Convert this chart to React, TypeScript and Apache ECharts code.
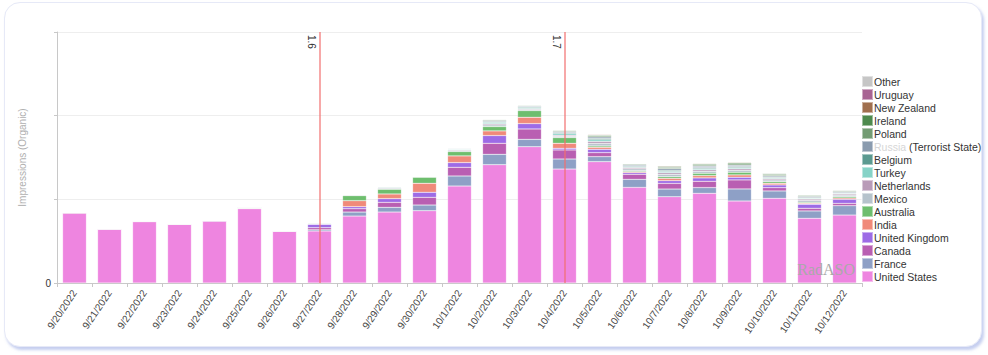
import React, { useEffect, useRef } from "react";
import * as echarts from "echarts";

const categories = [
  "9/20/2022", "9/21/2022", "9/22/2022", "9/23/2022", "9/24/2022", "9/25/2022",
  "9/26/2022", "9/27/2022", "9/28/2022", "9/29/2022", "9/30/2022", "10/1/2022",
  "10/2/2022", "10/3/2022", "10/4/2022", "10/5/2022", "10/6/2022", "10/7/2022",
  "10/8/2022", "10/9/2022", "10/10/2022", "10/11/2022", "10/12/2022",
];

// Stack order: bottom (United States) to top (Other)
const unitedStates = [836, 645, 734, 703, 743, 888, 620, 621, 800, 848, 864, 1159, 1414, 1629, 1362, 1450, 1143, 1031, 1072, 980, 1012, 773, 812];
const france = [4, 0, 0, 0, 0, 8, 0, 15, 48, 56, 68, 120, 124, 88, 120, 60, 96, 92, 68, 144, 88, 88, 112];
const canada = [0, 0, 0, 0, 0, 0, 0, 25, 40, 60, 92, 104, 132, 124, 108, 48, 60, 68, 76, 108, 40, 32, 28];
const unitedKingdom = [0, 0, 0, 0, 0, 0, 0, 40, 24, 44, 60, 56, 92, 64, 20, 40, 20, 32, 40, 32, 32, 48, 48];
const india = [0, 0, 0, 0, 0, 0, 0, 4, 72, 56, 108, 80, 56, 76, 60, 24, 12, 28, 28, 28, 20, 12, 16];
const australia = [0, 0, 4, 0, 0, 0, 0, 8, 60, 56, 72, 52, 52, 80, 68, 16, 12, 20, 28, 32, 20, 12, 16];
const mexico = [0, 0, 0, 1, 0, 0, 0, 3, 8, 12, 6, 14, 20, 14, 16, 30, 22, 28, 24, 24, 20, 22, 18];
const netherlands = [0, 0, 0, 0, 0, 0, 0, 2, 5, 8, 4, 8, 14, 10, 12, 24, 16, 20, 18, 18, 16, 16, 14];
const turkey = [4, 4, 3, 1, 5, 0, 5, 3, 5, 8, 3, 8, 16, 12, 20, 20, 10, 14, 12, 12, 10, 10, 8];
const belgium = [4, 4, 3, 0, 5, 8, 0, 2, 3, 6, 3, 6, 10, 10, 12, 16, 10, 14, 12, 12, 10, 8, 8];
const russia = [0, 0, 0, 0, 0, 0, 0, 1, 3, 6, 3, 7, 12, 10, 12, 18, 14, 20, 18, 18, 14, 14, 12];
const poland = [0, 0, 0, 0, 0, 0, 0, 1, 3, 6, 3, 6, 10, 8, 10, 14, 10, 14, 14, 16, 14, 10, 10];
const ireland = [0, 0, 0, 0, 0, 0, 0, 0, 2, 6, 2, 4, 6, 6, 8, 10, 6, 12, 12, 14, 12, 8, 8];
const newZealand = [0, 0, 0, 0, 0, 0, 0, 0, 1, 3, 1, 2, 4, 4, 4, 8, 4, 8, 8, 8, 6, 4, 2];
const uruguay = [0, 0, 0, 0, 0, 0, 0, 0, 2, 4, 1, 3, 4, 3, 3, 6, 2, 4, 4, 4, 4, 2, 2];
const other = [0, 0, 0, 0, 0, 0, 0, 0, 3, 5, 2, 2, 4, 3, 3, 4, 2, 2, 2, 2, 2, 2, 2];

const seriesNames = [
  "United States", "France", "Canada", "United Kingdom", "India", "Australia",
  "Mexico", "Netherlands", "Turkey", "Belgium", "Russia (Terrorist State)",
  "Poland", "Ireland", "New Zealand", "Uruguay", "Other",
];
const seriesValues = [
  unitedStates, france, canada, unitedKingdom, india, australia, mexico,
  netherlands, turkey, belgium, russia, poland, ireland, newZealand, uruguay, other,
];
const seriesColors = [
  "#ee85e0", "#8ea0c6", "#b95fb2", "#9d6be6", "#f08a7a", "#6ebe6e",
  "#b6c3cc", "#b99bb8", "#86d3c7", "#5b9a90", "#8a9bae", "#739c73",
  "#4e8a4e", "#a06f4e", "#a86493", "#c6c6c6",
];

const releaseDates = ["9/27/2022", "10/4/2022"];
const releaseLabels = ["1.6", "1.7"];

const yTicks = [0, 1000, 2000, 3000];

const FONT = "'Liberation Sans', Arial, sans-serif";

export default function App() {
  const ref = useRef<HTMLDivElement>(null);

  useEffect(() => {
    document.body.style.margin = "0";
    if (!ref.current) return;
    const chart = echarts.init(ref.current, undefined, { renderer: "svg" });

    const series: any[] = seriesNames.map((name, i) => {
      const s: any = {
        name,
        type: "bar",
        stack: "total",
        data: seriesValues[i],
        barCategoryGap: "32%",
        itemStyle: {
          color: seriesColors[i],
          borderColor: "rgba(255,255,255,0.45)",
          borderWidth: 0.5,
        },
      };
      if (i === 0) {
        s.markLine = {
          silent: true,
          symbol: "none",
          animation: false,
          lineStyle: { color: "rgba(242,110,110,0.6)", width: 2, type: "solid" },
          label: {
            show: true,
            position: "insideStartBottom",
            color: "#333",
            fontSize: 10,
            fontFamily: FONT,
            distance: 3,
          },
          data: releaseDates.map((d, k) => [
            { coord: [d, yTicks[yTicks.length - 1]], label: { formatter: releaseLabels[k] } },
            { coord: [d, 0] },
          ]),
        };
      }
      return s;
    });

    const legendData = seriesNames.slice().reverse();

    chart.setOption({
      animation: false,
      textStyle: { fontFamily: FONT },
      grid: { left: 57, right: 126, top: 32, bottom: 72, containLabel: false },
      legend: {
        orient: "vertical",
        left: 861,
        top: 75,
        padding: 0,
        itemWidth: 11,
        itemHeight: 11,
        itemGap: 0,
        icon: "rect",
        data: legendData,
        textStyle: {
          fontSize: 10.5,
          lineHeight: 11,
          color: "#333",
          fontFamily: FONT,
          padding: [0, 0, 0, -4],
          rich: {
            blur: { color: "#d6d6d6", fontSize: 10.5, lineHeight: 11, fontFamily: FONT },
            n: { color: "#333", fontSize: 10.5, lineHeight: 11, fontFamily: FONT },
          },
        },
        formatter: (name: string) =>
          name.startsWith("Russia") ? "{blur|Russia} {n|(Terrorist State)}" : name,
      },
      xAxis: {
        type: "category",
        data: categories,
        axisLine: { lineStyle: { color: "#c8c8c8" } },
        axisTick: { show: true, length: 4, lineStyle: { color: "#c8c8c8" } },
        axisLabel: {
          rotate: 56,
          fontSize: 10,
          color: "#444",
          fontFamily: FONT,
          margin: 8,
          interval: 0,
        },
      },
      yAxis: {
        type: "value",
        min: 0,
        max: yTicks[yTicks.length - 1],
        interval: yTicks[1] - yTicks[0],
        name: "Impressions (Organic)",
        nameLocation: "middle",
        nameGap: 30,
        nameTextStyle: { color: "#b0b0b0", fontSize: 10, fontFamily: FONT },
        axisLine: { show: true, lineStyle: { color: "#c8c8c8" } },
        axisTick: { show: true, length: 3, lineStyle: { color: "#c8c8c8" } },
        axisLabel: {
          fontSize: 10,
          color: "#333",
          fontFamily: FONT,
          margin: 6,
          formatter: (v: number) => (v === 0 ? "0" : ""),
        },
        splitLine: { lineStyle: { color: "#eeeeee" } },
      },
      graphic: [
        {
          type: "text",
          right: 133,
          bottom: 78,
          silent: true,
          z: 100,
          style: {
            text: "RadASO",
            fill: "#a9a9a9",
            fontSize: 16,
            fontFamily: "'Liberation Serif', 'DejaVu Serif', serif",
          },
        },
      ],
      series,
    });

    return () => chart.dispose();
  }, []);

  return (
    <div style={{ position: "relative", width: 988, height: 355, background: "#fff" }}>
      <div
        style={{
          position: "absolute",
          left: 4,
          top: 2,
          width: 976,
          height: 343,
          borderRadius: 16,
          background: "#fff",
          border: "1px solid #e6e9f7",
          boxShadow: "2px 3px 3px rgba(150,165,225,0.55)",
        }}
      />
      <div ref={ref} style={{ position: "absolute", left: 0, top: 0, width: 988, height: 355 }} />
    </div>
  );
}
